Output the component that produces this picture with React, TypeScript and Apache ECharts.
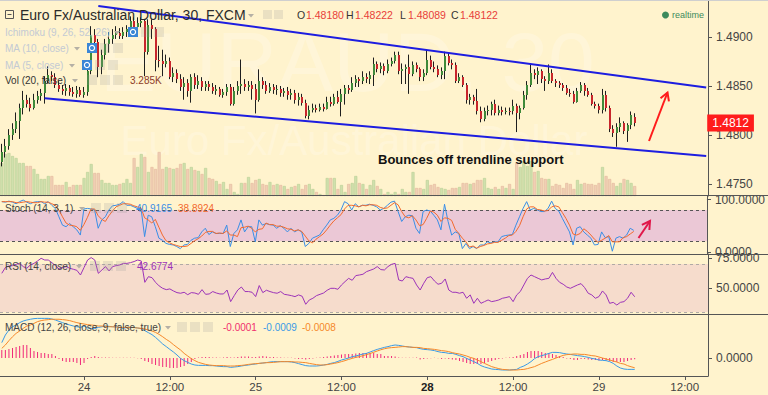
import React, { useEffect, useRef } from 'react';
import * as echarts from 'echarts';

// ---------- DATA (EUR/AUD 30-min, FXCM) ----------
// candles: [open, close, low, high]
const candles = [
  [1.4772,1.4783,1.4768,1.4791],[1.4783,1.4789,1.4777,1.4796],[1.4789,1.4800,1.4785,1.4806],[1.4800,1.4806,1.4795,1.4812],
  [1.4806,1.4814,1.4802,1.4823],[1.4814,1.4828,1.4796,1.4832],[1.4828,1.4836,1.4821,1.4845],[1.4836,1.4832,1.4828,1.4841],
  [1.4832,1.4828,1.4824,1.4838],[1.4828,1.4836,1.4826,1.4842],[1.4836,1.4840,1.4832,1.4845],[1.4840,1.4843,1.4835,1.4847],
  [1.4843,1.4855,1.4832,1.4860],[1.4855,1.4861,1.4853,1.4870],[1.4861,1.4859,1.4855,1.4865],[1.4859,1.4851,1.4848,1.4863],
  [1.4851,1.4847,1.4844,1.4855],[1.4847,1.4845,1.4841,1.4851],[1.4845,1.4848,1.4840,1.4852],[1.4848,1.4844,1.4840,1.4851],
  [1.4844,1.4842,1.4839,1.4849],[1.4842,1.4846,1.4838,1.4850],[1.4846,1.4841,1.4839,1.4849],[1.4841,1.4844,1.4838,1.4849],
  [1.4844,1.4865,1.4840,1.4870],[1.4865,1.4902,1.4862,1.4911],[1.4902,1.4895,1.4890,1.4908],[1.4895,1.4869,1.4859,1.4898],
  [1.4869,1.4882,1.4862,1.4887],[1.4882,1.4893,1.4877,1.4898],[1.4893,1.4898,1.4884,1.4905],[1.4898,1.4902,1.4893,1.4908],
  [1.4902,1.4904,1.4898,1.4911],[1.4904,1.4901,1.4898,1.4909],[1.4901,1.4905,1.4898,1.4910],[1.4905,1.4908,1.4900,1.4912],
  [1.4908,1.4916,1.4905,1.4921],[1.4916,1.4910,1.4905,1.4920],[1.4910,1.4914,1.4906,1.4920],[1.4914,1.4916,1.4910,1.4920],
  [1.4916,1.4885,1.4860,1.4918],[1.4885,1.4912,1.4882,1.4918],[1.4912,1.4908,1.4898,1.4918],[1.4908,1.4877,1.4865,1.4910],
  [1.4877,1.4875,1.4869,1.4891],[1.4875,1.4872,1.4860,1.4887],[1.4872,1.4875,1.4869,1.4882],[1.4875,1.4859,1.4857,1.4879],
  [1.4859,1.4863,1.4854,1.4869],[1.4863,1.4857,1.4853,1.4867],[1.4857,1.4849,1.4845,1.4862],[1.4849,1.4853,1.4836,1.4859],
  [1.4853,1.4845,1.4839,1.4857],[1.4845,1.4859,1.4833,1.4862],[1.4859,1.4851,1.4847,1.4863],[1.4851,1.4855,1.4847,1.4861],
  [1.4855,1.4849,1.4845,1.4859],[1.4849,1.4852,1.4845,1.4855],[1.4852,1.4849,1.4845,1.4855],[1.4849,1.4845,1.4842,1.4853],
  [1.4845,1.4847,1.4841,1.4851],[1.4847,1.4841,1.4839,1.4849],[1.4841,1.4844,1.4838,1.4847],[1.4844,1.4849,1.4840,1.4852],
  [1.4849,1.4832,1.4830,1.4852],[1.4832,1.4845,1.4830,1.4849],[1.4845,1.4850,1.4841,1.4855],[1.4850,1.4852,1.4842,1.4877],
  [1.4852,1.4849,1.4845,1.4857],[1.4849,1.4851,1.4845,1.4855],[1.4851,1.4847,1.4836,1.4855],[1.4847,1.4836,1.4822,1.4852],
  [1.4836,1.4855,1.4834,1.4867],[1.4855,1.4851,1.4847,1.4859],[1.4851,1.4845,1.4842,1.4855],[1.4845,1.4849,1.4843,1.4853],
  [1.4849,1.4846,1.4842,1.4852],[1.4846,1.4847,1.4841,1.4851],[1.4847,1.4843,1.4839,1.4850],[1.4843,1.4845,1.4839,1.4848],
  [1.4845,1.4841,1.4836,1.4849],[1.4841,1.4843,1.4836,1.4847],[1.4843,1.4836,1.4832,1.4846],[1.4836,1.4839,1.4830,1.4843],
  [1.4839,1.4833,1.4830,1.4842],[1.4833,1.4819,1.4817,1.4836],[1.4819,1.4826,1.4816,1.4830],[1.4826,1.4828,1.4823,1.4832],
  [1.4828,1.4826,1.4823,1.4831],[1.4826,1.4829,1.4824,1.4832],[1.4829,1.4827,1.4824,1.4832],[1.4827,1.4834,1.4826,1.4839],
  [1.4834,1.4832,1.4829,1.4839],[1.4832,1.4839,1.4830,1.4842],[1.4839,1.4834,1.4832,1.4845],[1.4834,1.4842,1.4819,1.4847],
  [1.4842,1.4848,1.4831,1.4851],[1.4848,1.4846,1.4842,1.4851],[1.4846,1.4853,1.4844,1.4859],[1.4853,1.4857,1.4849,1.4861],
  [1.4857,1.4855,1.4849,1.4859],[1.4855,1.4859,1.4852,1.4865],[1.4859,1.4857,1.4853,1.4863],[1.4857,1.4861,1.4852,1.4865],
  [1.4861,1.4872,1.4850,1.4879],[1.4872,1.4867,1.4864,1.4875],[1.4867,1.4870,1.4863,1.4874],[1.4870,1.4865,1.4861,1.4873],
  [1.4865,1.4872,1.4863,1.4877],[1.4872,1.4875,1.4870,1.4879],[1.4875,1.4882,1.4873,1.4885],[1.4882,1.4865,1.4862,1.4885],
  [1.4865,1.4867,1.4852,1.4873],[1.4867,1.4869,1.4852,1.4872],[1.4869,1.4862,1.4842,1.4882],[1.4862,1.4871,1.4860,1.4875],
  [1.4871,1.4867,1.4864,1.4874],[1.4867,1.4859,1.4855,1.4869],[1.4859,1.4863,1.4855,1.4867],[1.4863,1.4877,1.4861,1.4887],
  [1.4877,1.4869,1.4867,1.4881],[1.4869,1.4867,1.4864,1.4875],[1.4867,1.4861,1.4859,1.4871],[1.4861,1.4865,1.4857,1.4869],
  [1.4865,1.4881,1.4857,1.4885],[1.4881,1.4873,1.4871,1.4884],[1.4873,1.4871,1.4867,1.4877],[1.4871,1.4855,1.4853,1.4874],
  [1.4855,1.4859,1.4853,1.4863],[1.4859,1.4851,1.4849,1.4861],[1.4851,1.4836,1.4832,1.4853],[1.4836,1.4839,1.4831,1.4842],
  [1.4839,1.4835,1.4831,1.4841],[1.4835,1.4824,1.4821,1.4847],[1.4824,1.4816,1.4813,1.4829],[1.4816,1.4824,1.4814,1.4828],
  [1.4824,1.4826,1.4820,1.4830],[1.4826,1.4832,1.4820,1.4834],[1.4832,1.4822,1.4820,1.4836],[1.4822,1.4826,1.4820,1.4830],
  [1.4826,1.4823,1.4820,1.4829],[1.4823,1.4825,1.4821,1.4828],[1.4825,1.4824,1.4820,1.4828],[1.4824,1.4830,1.4821,1.4836],
  [1.4830,1.4822,1.4803,1.4832],[1.4822,1.4828,1.4816,1.4830],[1.4828,1.4841,1.4826,1.4845],[1.4841,1.4851,1.4836,1.4855],
  [1.4851,1.4863,1.4849,1.4872],[1.4863,1.4861,1.4857,1.4867],[1.4861,1.4865,1.4852,1.4869],[1.4865,1.4857,1.4853,1.4867],
  [1.4857,1.4855,1.4845,1.4860],[1.4855,1.4863,1.4852,1.4872],[1.4863,1.4855,1.4853,1.4867],[1.4855,1.4853,1.4849,1.4857],
  [1.4853,1.4851,1.4848,1.4855],[1.4851,1.4848,1.4845,1.4853],[1.4848,1.4843,1.4841,1.4851],[1.4843,1.4842,1.4839,1.4847],
  [1.4842,1.4834,1.4832,1.4845],[1.4834,1.4845,1.4833,1.4848],[1.4845,1.4851,1.4843,1.4854],[1.4851,1.4845,1.4840,1.4853],
  [1.4845,1.4841,1.4839,1.4848],[1.4841,1.4832,1.4830,1.4843],[1.4832,1.4830,1.4827,1.4834],[1.4830,1.4826,1.4822,1.4832],
  [1.4826,1.4841,1.4822,1.4847],[1.4841,1.4828,1.4824,1.4845],[1.4828,1.4806,1.4803,1.4830],[1.4806,1.4802,1.4798,1.4810],
  [1.4802,1.4808,1.4788,1.4812],[1.4808,1.4812,1.4803,1.4818],[1.4812,1.4804,1.4801,1.4814],[1.4804,1.4810,1.4793,1.4812],
  [1.4810,1.4820,1.4806,1.4824],[1.48180,1.48122,1.48089,1.48222],
];

const volumes = [
  10890,13860,14190,13200,12540,10890,10890,9900,9900,8910,
  7260,5610,5610,6600,6600,3630,3630,3630,4620,2970,
  3630,3630,3630,5940,7920,10560,7590,7590,5280,4290,
  4290,3630,3630,3960,4290,5610,4290,12540,9570,13860,
  12870,7920,9570,8910,14520,8910,9570,9240,8910,9240,
  10560,10890,8910,9570,8580,8250,7260,9240,5940,5610,
  4950,3960,4620,2310,3960,1320,660,4290,4290,6270,
  4290,5280,5610,3960,3630,4620,3630,3960,3630,3300,
  2310,2970,3300,3960,2310,3630,3960,2310,1320,660,
  330,5940,5940,5940,2310,3630,1320,3960,4290,6600,
  4290,3960,2310,3630,5280,3300,2310,
  660,1320,660,1320,660,2310,1320,1320,7920,2640,
  2640,2310,5280,3630,3960,2970,2640,2310,1980,2640,
  2640,2970,4290,4290,3960,4290,5280,5280,5940,2640,
  2310,2970,2310,3300,2640,3960,2310,
  10890,9570,11550,9900,11550,7920,8250,5940,5610,5610,
  3300,3960,3630,2640,4290,3960,2310,5280,3960,4290,
  3960,3960,3630,4290,9570,6600,5610,4290,3300,4290,
  5610,5280,4290,3285,
];

const stochK = [
  96,95,97,95,92,96,99,95,92,95, 96,96,92,96,89,83,67,51,48,54,
  48,42,32,82,83,82,80,45,61,67, 80,88,89,91,96,89,89,86,83,83,
  29,70,67,48,26,22,16,14,13,10, 6,13,14,22,26,27,38,45,33,38,
  35,35,35,51,10,35,42,61,38,48, 48,19,61,51,54,52,51,45,50,45,
  38,45,38,42,38,10,16,26,29,32, 42,51,61,64,70,80,96,92,80,92,
  86,89,89,91,89,86,80, 83,89,95,97,77,58,67,70,69,45,
  35,77,80,78,70,61,42,91,58,32, 38,35,6,16,6,10,6,13,13,19,
  17,19,19,29,31,32,33, 51,67,83,96,80,83,80,77,77,83,
  97,83,78,64,51,38,13,45,48,38, 32,26,13,14,38,27,29,1,26,29,
  26,32,45,40.9165,
];

const stochD = [
  96,96,96,96,94,94,95,96,95,94, 94,96,95,95,92,89,80,67,55,51,
  50,48,41,52,66,82,82,69,62,58, 69,78,86,89,92,92,91,88,86,84,
  65,61,55,62,47,32,21,17,14,12, 10,10,11,16,21,25,30,37,39,39,
  35,36,35,40,32,32,29,46,47,49, 45,38,43,44,55,52,52,49,49,47,
  44,43,40,42,39,30,21,17,24,29, 34,42,51,59,65,71,82,89,89,88,
  86,89,88,90,90,89,85, 83,84,89,94,90,77,67,65,69,61,
  50,52,64,78,76,70,58,65,64,60, 43,35,26,19,9,11,7,10,12,15,
  16,18,18,22,26,31,32, 39,50,67,82,86,86,81,80,78,79,
  86,88,86,75,64,51,34,32,35,44, 39,32,24,18,22,26,31,19,19,19,
  27,29,34,38.8924,
];

const rsi = [
  62.2,67,68.3,68.6,69.7,70.5,67.8,66.4,69.2,70.5, 72.5,74.7,73.3,73.3,71.1,68.6,65.8,67,67.8,66.4,
  65.6,64.7,60.8,67,73.3,75.3,73.3,62.2,65,67.8, 64.2,67.8,68.6,69.2,70.5,70.5,71.1,72,73.3,72.5,
  54.7,59.4,58.6,54.7,51.7,49.7,48.6,49.2,47.5,46.1, 45.6,46.4,44.4,46.1,45.8,44.7,48.6,44.7,45,47,
  45.8,45,45,48.3,38.6,43.6,48.3,50.8,47,47, 46.4,42.8,52,46.1,48.1,47,46.1,45.6,47,44.7,
  44.2,43.6,42.8,44.2,43.1,36.4,40,41.4,43.6,44.7, 45.8,48.1,49.7,49.7,48.9,52.5,55.3,58,56.4,60.3,
  60.8,61.4,63.6,64.7,65.8,67.8,65.3, 65,67.8,69.7,70.5,56.7,55.8,59.4,58.6,58,52.5,
  48.3,53.9,58.6,59.4,55.8,53.1,53.9,57.5,48.3,46.4, 46.4,45.6,46.4,41.4,44.2,37.2,41.4,37.2,38.6,40,
  38.6,39.2,40,41.4,42,42.8,38.6, 44.2,47,52.5,58,60.8,59.4,58,56.7,57.5,58,
  63,58,54.7,53.1,50.8,49.7,51.1,52.5,53.6,50.3, 45.6,44.2,41.4,42.8,47.5,44.2,37.2,38,35.8,38,
  38.6,41.4,46.4,42.6774,
];

// MACD values in units of 0.0001
const macdLine = [
  12.3,18.4,22.4,25,26.4,28.3,29.6,30.4,31,31.5, 31.7,31.7,31.7,31.7,31.2,30.4,29.3,28.3,27.2,26.4,
  25.6,25,24.5,25.6,24,23.5,23.5,24.5,25,25.6, 25.3,25,25,24.5,23.7,24.5,24.5,24.5,24,23.5,
  21.9,20.3,18.7,16.5,13.9,11.2,9.1,6.9,4.8,2.4, -0.3,-2.1,-3.5,-4.8,-5.6,-5.9,-5.9,-5.9,-6.1,-6.1,
  -6.4,-6.7,-6.9,-6.9,-7.5,-7.2,-6.9,-6.4,-5.9,-5.6, -5.1,-4.8,-4.3,-4,-3.7,-3.2,-2.9,-2.9,-2.9,-2.9,
  -2.9,-3.2,-3.7,-4.5,-5.3,-6.1,-6.4,-6.4,-6.4,-6.1, -5.6,-5.1,-4.3,-3.7,-2.7,-1.6,-0.8,0,1.1,1.6,
  2.4,3.2,3.7,4.8,5.9,6.9,7.7, 8.5,9.1,9.9,10.4,10.1,9.6,9.1,8.8,8.5,8.3,
  7.5,6.9,6.7,6.4,5.9,5.1,4.5,4.3,3.7,3.7, 2.9,1.9,1.1,-0.3,-1.6,-2.9,-4.3,-6.1,-7.2,-8,
  -8.8,-9.1,-9.3,-9.6,-9.6,-9.6,-9.3, -9.1,-7.5,-6.4,-4.8,-2.9,-0.5,1.1,1.9,2.7,3.7,
  4.5,4.5,4.3,3.7,3.2,2.9,2.4,1.9,1.6,1.1, 0.5,-0.3,-0.8,-1.6,-1.9,-2.1,-2.9,-4.3,-6.4,-8,
  -8.8,-9.1,-9.1,-9.1,
];
const macdSignal = [
  7.7,10.4,13.9,17,19.7,21.6,23.7,25.6,26.4,27.7, 29.1,29.9,30.4,30.7,31,31,31,30.7,30.4,29.9,
  29.1,28.3,27.7,27.2,26.7,26.4,26.1,25.6,25.6,25.3, 25,25,24.8,24.5,24.5,24.5,24.5,24.3,24,23.7,
  23.2,22.4,21.6,20.5,18.9,17,14.9,13.1,10.7,8.5, 6.4,3.7,1.6,-0.5,-2.1,-3.5,-4.3,-5.1,-5.6,-5.9,
  -6.1,-6.1,-6.1,-6.4,-6.4,-6.4,-6.1,-5.9,-5.6,-5.1, -4.8,-4.5,-4.3,-4,-3.7,-3.7,-3.5,-3.2,-2.9,-2.9,
  -2.9,-2.9,-3.2,-3.2,-3.5,-3.7,-4.3,-4.8,-5.3,-5.6, -5.6,-5.3,-4.8,-4.3,-3.7,-2.9,-2.1,-1.1,-0.3,0.5,
  1.1,1.9,2.7,3.6,4.6,5.6,6.6, 7.4,8,8.3,8.5,8.8,9.1,9.1,8.8,8.5,8.5,
  8.3,7.7,7.5,7.2,6.9,6.4,5.9,5.6,5.1,4.3, 3.7,3.2,2.4,1.6,0.5,-0.3,-1.6,-2.9,-4.3,-5.6,
  -6.9,-7.7,-8.5,-9.1,-9.3,-9.6,-9.6, -9.6,-9.3,-9.1,-8.5,-7.7,-6.9,-5.6,-4.3,-3.2,-2.1,
  -1.1,0,1.1,2.1,2.7,2.9,3.2,3.2,2.9,2.9, 2.4,1.9,1.6,0.8,0,-0.8,-1.6,-2.4,-3.2,-4.3,
  -4.8,-6.1,-7,-7.8,
];
const macdHist = [
  6.4,6.4,7.2,8,8.8,9.6,10.4,10.4,8,5.6, 4.8,4,4,3.2,3.2,1.6,-0.8,-2.4,-3.2,-3.2,
  -3.2,-4,-5.6,-4,-0.8,0.8,1.6,0.8,0.4,0.4, 0.4,0.2,0.2,0.2,0.2,0.2,0.2,0.2,-0.2,-0.8,
  -2.4,-3.2,-4.8,-5.6,-6.4,-7.2,-7.2,-8,-8,-8, -7.2,-6.4,-4.8,-3.2,-0.8,0.4,0.8,0.8,0.8,0.4,
  0.4,0.2,0.4,0.8,0.4,0.4,0.8,1.2,1.2,1.2, 0.8,0.8,1.2,1.6,1.2,0.8,0.8,0.4,0.4,0.2,
  0.2,0.2,-0.4,-0.8,-0.8,-1.2,-0.8,-0.4,0.2,0.4, 0.8,1.2,1.6,2,2.4,2.8,3.2,3.2,3.2,3.6,
  4,4,4,4,4,3.2,3.2, 1.6,1.6,1.6,1.2,0.4,0.2,0.2,0.2,0.2,0.4,
  -1.2,-0.8,-0.4,-0.2,0.2,-0.2,-0.8,-0.4,-0.8,-1.2, -1.6,-2.4,-3.2,-4,-4.8,-4.8,-4.8,-4.8,-4,-3.2,
  -2.4,-1.6,-0.8,-0.4,0.2,0.4,0.8, 1.6,2.4,3.2,4.8,5.6,5.6,5.6,4.8,4,4,
  3.2,2.4,1.6,0.8,-0.4,-0.8,-1.6,-1.6,-0.8,-0.8, -1.2,-1.6,-1.6,-2,-1.6,-2,-2.4,-3.2,-3.2,-3.2,
  -3.2,-2.4,-1.6,-1,
];

// trendlines: [slot index, price]
const upperTrend = [[27, 1.49316], [197, 1.48485]];
const lowerTrend = [[12, 1.48374], [197, 1.47786]];

const priceTicks = [1.475, 1.48, 1.485, 1.49];
const stochTicks = [0, 100];
const rsiTicks = [50, 75];
const macdTicks = [0];

// 30-minute bars from 23 Aug 2017 12:30 (weekend gap skipped)
const SLOTS = 198;
const categories: string[] = [];
{
  let t = Date.UTC(2017, 7, 23, 12, 30);
  for (let i = 0; i < SLOTS; i++) {
    const d = new Date(t);
    const hh = String(d.getUTCHours()).padStart(2, '0');
    const mm = String(d.getUTCMinutes()).padStart(2, '0');
    categories.push(`${d.getUTCDate()} ${hh}:${mm}`);
    t += 30 * 60 * 1000;
    const n = new Date(t);
    if (n.getUTCDay() === 5 && n.getUTCHours() === 22 && n.getUTCMinutes() === 0) t += 48 * 3600 * 1000;
  }
}

const FONT = '"Liberation Sans", Arial, Helvetica, sans-serif';
const BG = '#fff3cd';
const AXIS = '#555';

function txt(text: string, x: number, y: number, fill: string, size: number, weight = 'normal') {
  return {
    type: 'text', z: 100, silent: true,
    style: { text, x, y, fill, font: `${weight} ${size}px ${FONT}`, verticalAlign: 'middle', textVerticalAlign: 'middle' },
  };
}
function caret(x: number, y: number) {
  return { type: 'polygon', z: 100, silent: true, shape: { points: [[x, y - 2], [x + 6, y - 2], [x + 3, y + 1.5]] }, style: { fill: '#b5b0a5' } };
}
function boxes(x: number, y: number, blue = false) {
  const out: any[] = [];
  for (let i = 0; i < 3; i++) {
    const bx = x + i * 13;
    if (i === 0 && blue) {
      out.push({ type: 'rect', z: 100, silent: true, shape: { x: bx, y: y - 5, width: 10, height: 10 }, style: { fill: '#3b86d6' } });
      out.push({ type: 'circle', z: 101, silent: true, shape: { cx: bx + 5, cy: y, r: 2.6 }, style: { fill: 'none', stroke: '#fff', lineWidth: 1.2 } });
    } else {
      out.push({ type: 'rect', z: 100, silent: true, shape: { x: bx, y: y - 5, width: 10, height: 10 }, style: { fill: 'rgba(150,150,150,0.2)' } });
    }
  }
  return out;
}
function arrow(x1: number, y1: number, x2: number, y2: number, color: string) {
  const dx = x2 - x1, dy = y2 - y1, L = Math.hypot(dx, dy);
  const bx = -dx / L, by = -dy / L, c = Math.cos(Math.PI / 6), s = Math.sin(Math.PI / 6), len = 9;
  const p1 = [x2 + (bx * c - by * s) * len, y2 + (bx * s + by * c) * len];
  const p2 = [x2 + (bx * c + by * s) * len, y2 + (-bx * s + by * c) * len];
  return [
    { type: 'line', z: 100, silent: true, shape: { x1, y1, x2, y2 }, style: { stroke: color, lineWidth: 2 } },
    { type: 'polyline', z: 100, silent: true, shape: { points: [p1, [x2, y2], p2] }, style: { stroke: color, lineWidth: 2, fill: 'none' } },
  ];
}

function buildOption() {
  const candleData = candles.map((c, i) => [i, c[0], c[1], c[2], c[3]]);
  const volData = volumes.map((v, i) => {
    const up = candles[i][1] >= candles[i][0];
    return { value: v, itemStyle: { color: up ? '#d0e0ad' : '#f0cfb4', borderColor: up ? '#b7cf93' : '#e2b79c', borderWidth: 0.6 } };
  });
  const last = candles[candles.length - 1][1];

  const isMajor = (_i: number, v: string) => v.endsWith(' 00:00') || v.endsWith(' 12:00');
  const xBase = (gi: number) => ({
    type: 'category', gridIndex: gi, data: categories, boundaryGap: true,
    axisLine: { show: false, onZero: false }, axisTick: { show: false }, axisLabel: { show: false }, splitLine: { show: false },
  });
  const yBase = (gi: number, min: number, max: number, ticks: number[]) => ({
    type: 'value', gridIndex: gi, position: 'right', min, max, scale: true,
    axisLine: { show: true, lineStyle: { color: AXIS } },
    axisTick: { show: true, length: 4, customValues: ticks, lineStyle: { color: AXIS } },
    axisLabel: { show: true, customValues: ticks, formatter: (v: number) => v.toFixed(4), color: '#444', fontSize: 12, fontFamily: FONT, margin: 8 },
    splitLine: { show: false },
  });

  const graphic: any[] = [
    // watermark
    { type: 'text', z: 0, silent: true, style: { text: 'EURAUD, 30', x: 100, y: 62, fill: 'rgba(255,255,255,0.22)', font: `84px ${FONT}`, verticalAlign: 'middle', textVerticalAlign: 'middle' } },
    { type: 'text', z: 0, silent: true, style: { text: 'Euro Fx/Australian Dollar', x: 354, y: 140, fill: 'rgba(255,255,255,0.22)', font: `42px ${FONT}`, align: 'center', textAlign: 'center', verticalAlign: 'middle', textVerticalAlign: 'middle' } },
    // frame lines
    { type: 'rect', z: 90, silent: true, shape: { x: 0, y: 0, width: 768, height: 1 }, style: { fill: '#cfcfcf' } },
    { type: 'line', z: 90, silent: true, shape: { x1: 0, y1: 195.5, x2: 768, y2: 195.5 }, style: { stroke: AXIS, lineWidth: 1 } },
    { type: 'line', z: 90, silent: true, shape: { x1: 0, y1: 254.5, x2: 768, y2: 254.5 }, style: { stroke: AXIS, lineWidth: 1 } },
    { type: 'line', z: 90, silent: true, shape: { x1: 0, y1: 314.5, x2: 768, y2: 314.5 }, style: { stroke: AXIS, lineWidth: 1 } },
    // title row
    { type: 'rect', z: 100, silent: true, shape: { x: 5.5, y: 10.5, width: 8, height: 8 }, style: { fill: 'none', stroke: '#555', lineWidth: 1 } },
    { type: 'line', z: 100, silent: true, shape: { x1: 7.5, y1: 14.5, x2: 11.5, y2: 14.5 }, style: { stroke: '#555', lineWidth: 1 } },
    txt('Euro Fx/Australian Dollar, 30, FXCM', 20, 15, '#2b2b2b', 14),
    caret(248, 16),
    { type: 'rect', z: 100, silent: true, shape: { x: 263, y: 10, width: 9, height: 9 }, style: { fill: 'rgba(150,150,150,0.2)' } },
    { type: 'rect', z: 100, silent: true, shape: { x: 274, y: 10, width: 9, height: 9 }, style: { fill: 'rgba(150,150,150,0.2)' } },
    txt('O', 297, 15, '#333', 10.5), txt(candles[candles.length - 1][0].toFixed(5), 306, 15, '#e8403a', 10.5),
    txt('H', 346, 15, '#333', 10.5), txt(candles[candles.length - 1][3].toFixed(5), 355, 15, '#e8403a', 10.5),
    txt('L', 400, 15, '#333', 10.5), txt(candles[candles.length - 1][2].toFixed(5), 408, 15, '#e8403a', 10.5),
    txt('C', 451, 15, '#333', 10.5), txt(last.toFixed(5), 460, 15, '#e8403a', 10.5),
    { type: 'circle', z: 100, silent: true, shape: { cx: 665.5, cy: 15, r: 3.5 }, style: { fill: '#3d8a5c' } },
    txt('realtime', 672, 15, '#3d8a5c', 9),
    // hidden indicator legends
    txt('Ichimoku (9, 26, 52, 26)', 5, 32, '#c3cad4', 10), caret(114, 33), ...boxes(128, 32, true),
    txt('MA (10, close)', 5, 48, '#c3cad4', 10), caret(74, 49), ...boxes(87, 48, true),
    txt('MA (5, close)', 5, 65, '#c3cad4', 10), caret(69, 66), ...boxes(82, 65, true),
    txt('Vol (20, false)', 5, 80, '#333', 10), caret(72, 81), ...boxes(87, 80),
    txt((volumes[volumes.length - 1] / 1000).toFixed(3) + 'K', 130, 80, '#8c3b2b', 10),
    // annotation
    txt('Bounces off trendline support', 378, 159, '#111', 13, 'bold'),
    ...arrow(649, 141, 667.5, 92.5, '#ff1c1c'),
    ...arrow(638.5, 238, 650, 221, '#e0184a'),
    // stoch legend
    txt('Stoch (14, 3, 1)', 5, 208, '#444', 10), caret(79, 209), ...boxes(91, 208),
    txt(stochK[stochK.length - 1].toFixed(4), 136, 208, '#3a8ee6', 10),
    txt(stochD[stochD.length - 1].toFixed(4), 178, 208, '#f26a2e', 10),
    // rsi legend
    txt('RSI (14, close)', 5, 266, '#444', 10), caret(76, 267), ...boxes(90, 266),
    txt(rsi[rsi.length - 1].toFixed(4), 137, 266, '#9c33b8', 10),
    // macd legend
    txt('MACD (12, 26, close, 9, false, true)', 5, 327, '#444', 10), caret(165, 328), ...boxes(177, 327),
    txt((macdHist[macdHist.length - 1] / 1e4).toFixed(4), 223, 327, '#f0306e', 10),
    txt((macdLine[macdLine.length - 1] / 1e4).toFixed(4), 263, 327, '#3a9ae6', 10),
    txt((macdSignal[macdSignal.length - 1] / 1e4).toFixed(4), 302, 327, '#f5882a', 10),
  ];

  return {
    animation: false,
    backgroundColor: BG,
    grid: [
      { left: 0, top: 0, width: 708, height: 196 },
      { left: 0, top: 196, width: 708, height: 58 },
      { left: 0, top: 254, width: 708, height: 60 },
      { left: 0, top: 314, width: 708, height: 62 },
    ],
    xAxis: [
      xBase(0), xBase(1), xBase(2),
      {
        ...xBase(3),
        axisLine: { show: true, onZero: false, lineStyle: { color: AXIS } },
        axisTick: { show: true, interval: isMajor, length: 4, alignWithLabel: true, lineStyle: { color: AXIS } },
        axisLabel: {
          show: true, interval: isMajor, color: '#444', fontSize: 11.5, fontFamily: FONT, margin: 5,
          formatter: (v: string) => {
            const [d, hm] = v.split(' ');
            if (hm === '00:00') return d === '28' ? `{b|${d}}` : d;
            return hm;
          },
          rich: { b: { fontWeight: 'bold', fontSize: 11.5, color: '#222', fontFamily: FONT } },
        },
      },
    ],
    yAxis: [
      yBase(0, 1.47378, 1.49377, priceTicks),
      { type: 'value', gridIndex: 0, min: 0, max: 64680, show: false },
      yBase(1, -4.3, 106.8, stochTicks),
      yBase(2, 28.3, 78.3, rsiTicks),
      { ...yBase(3, -0.00144, 0.00352, macdTicks.map((v) => v / 1e4)), axisLabel: { show: true, customValues: macdTicks.map((v) => v / 1e4), formatter: (v: number) => Math.abs(v).toFixed(4), color: '#444', fontSize: 12, fontFamily: FONT, margin: 8 } },
    ],
    graphic,
    series: [
      {
        type: 'bar', name: 'Vol', xAxisIndex: 0, yAxisIndex: 1, data: volData, barWidth: 3, silent: true, z: 1,
      },
      {
        type: 'custom', name: 'EURAUD', xAxisIndex: 0, yAxisIndex: 0, data: candleData, z: 4, silent: true,
        encode: { x: 0, y: [1, 2, 3, 4] },
        renderItem: (_p: any, api: any) => {
          const i = api.value(0);
          const o = api.value(1), c = api.value(2), l = api.value(3), h = api.value(4);
          const po = api.coord([i, o]), pc = api.coord([i, c]), pl = api.coord([i, l]), ph = api.coord([i, h]);
          const left = Math.round(po[0]) - 1;
          const wx = left + 0.5;
          const y1 = Math.round(Math.min(po[1], pc[1]));
          const y2 = Math.round(Math.max(po[1], pc[1]));
          const up = c >= o;
          return {
            type: 'group',
            children: [
              { type: 'line', shape: { x1: wx, y1: ph[1], x2: wx, y2: pl[1] }, style: { stroke: '#1e1e1e', lineWidth: 1 } },
              { type: 'rect', shape: { x: left, y: y1, width: 2, height: Math.max(1, y2 - y1) }, style: { fill: up ? '#3f8a3a' : '#c8262c' } },
            ],
          };
        },
      },
      {
        type: 'line', name: 'upper', xAxisIndex: 0, yAxisIndex: 0, data: upperTrend, symbol: 'none', silent: true, z: 6,
        lineStyle: { color: '#1d1de0', width: 2 },
      },
      {
        type: 'line', name: 'lower', xAxisIndex: 0, yAxisIndex: 0, data: lowerTrend, symbol: 'none', silent: true, z: 6,
        lineStyle: { color: '#1d1de0', width: 2 },
      },
      {
        type: 'line', name: 'last', xAxisIndex: 0, yAxisIndex: 0, data: [[0, last], [197, last]], symbol: 'none', silent: true, z: 7,
        lineStyle: { color: 'rgba(0,0,0,0)', width: 1 },
        endLabel: {
          show: true, distance: 1, formatter: () => last.toFixed(4), color: '#fff', backgroundColor: '#ff1c1c',
          padding: [3, 5, 2, 5], fontSize: 12, fontFamily: FONT,
        },
      },
      {
        type: 'line', name: '%K', xAxisIndex: 1, yAxisIndex: 2, data: stochK, symbol: 'none', silent: true, z: 5,
        lineStyle: { color: '#3a8ee6', width: 1 },
        markArea: { silent: true, itemStyle: { color: '#ebc8d6' }, data: [[{ yAxis: 20 }, { yAxis: 80 }]] },
        markLine: { silent: true, symbol: ['none', 'none'], label: { show: false }, lineStyle: { color: '#555', type: [3, 3], width: 1 }, data: [{ yAxis: 20 }, { yAxis: 80 }] },
      },
      {
        type: 'line', name: '%D', xAxisIndex: 1, yAxisIndex: 2, data: stochD, symbol: 'none', silent: true, z: 5,
        lineStyle: { color: '#f26a2e', width: 1 },
      },
      {
        type: 'line', name: 'RSI', xAxisIndex: 2, yAxisIndex: 3, data: rsi, symbol: 'none', silent: true, z: 5,
        lineStyle: { color: '#9c33b8', width: 1 },
        markArea: { silent: true, itemStyle: { color: '#f6dccc' }, data: [[{ yAxis: 30 }, { yAxis: 70 }]] },
        markLine: { silent: true, symbol: ['none', 'none'], label: { show: false }, lineStyle: { color: '#b0aaa5', type: [3, 3], width: 1 }, data: [{ yAxis: 30 }, { yAxis: 70 }] },
      },
      {
        type: 'bar', name: 'Hist', xAxisIndex: 3, yAxisIndex: 4, data: macdHist.map((v) => v / 1e4), barWidth: 1, silent: true, z: 3,
        itemStyle: { color: '#f0287a' },
      },
      {
        type: 'line', name: 'MACD', xAxisIndex: 3, yAxisIndex: 4, data: macdLine.map((v) => v / 1e4), symbol: 'none', silent: true, z: 5,
        lineStyle: { color: '#3a9ae6', width: 1 },
      },
      {
        type: 'line', name: 'Signal', xAxisIndex: 3, yAxisIndex: 4, data: macdSignal.map((v) => v / 1e4), symbol: 'none', silent: true, z: 5,
        lineStyle: { color: '#f5882a', width: 1 },
      },
    ],
  };
}

export default function App() {
  const ref = useRef<HTMLDivElement | null>(null);
  useEffect(() => {
    if (!ref.current) return;
    const chart = echarts.init(ref.current, null, { renderer: 'svg' });
    chart.setOption(buildOption() as any);
    return () => chart.dispose();
  }, []);
  return <div ref={ref} style={{ position: 'fixed', left: 0, top: 0, width: 768, height: 395 }} />;
}
